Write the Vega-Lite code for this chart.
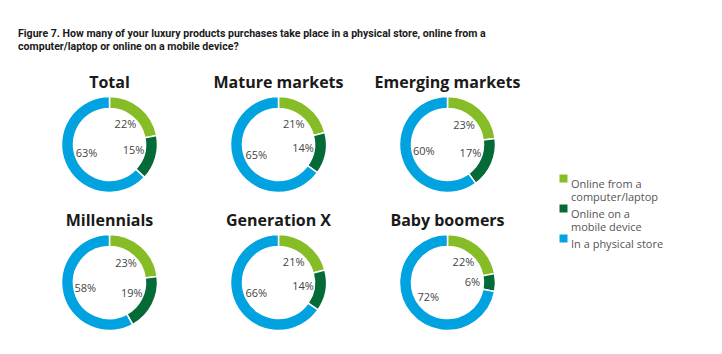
{
  "$schema": "https://vega.github.io/schema/vega-lite/v6.json",
  "padding": {"left": 18, "top": 28, "right": 5, "bottom": 5},
  "background": "white",
  "title": {
    "text": ["Figure 7. How many of your luxury products purchases take place in a physical store, online from a", "computer/laptop or online on a mobile device?"],
    "anchor": "start",
    "frame": "bounds",
    "font": "Roboto",
    "fontSize": 10.6,
    "fontWeight": "bold",
    "color": "#1a1a1a",
    "lineHeight": 13,
    "dx": -7,
    "offset": 22
  },
  "data": {
    "values": [
      {"group": "Total", "category": "Online from a computer/laptop", "order": 1, "value": 22},
      {"group": "Total", "category": "Online on a mobile device", "order": 2, "value": 15},
      {"group": "Total", "category": "In a physical store", "order": 3, "value": 63},
      {"group": "Mature markets", "category": "Online from a computer/laptop", "order": 1, "value": 21},
      {"group": "Mature markets", "category": "Online on a mobile device", "order": 2, "value": 14},
      {"group": "Mature markets", "category": "In a physical store", "order": 3, "value": 65},
      {"group": "Emerging markets", "category": "Online from a computer/laptop", "order": 1, "value": 23},
      {"group": "Emerging markets", "category": "Online on a mobile device", "order": 2, "value": 17},
      {"group": "Emerging markets", "category": "In a physical store", "order": 3, "value": 60},
      {"group": "Millennials", "category": "Online from a computer/laptop", "order": 1, "value": 23},
      {"group": "Millennials", "category": "Online on a mobile device", "order": 2, "value": 19},
      {"group": "Millennials", "category": "In a physical store", "order": 3, "value": 58},
      {"group": "Generation X", "category": "Online from a computer/laptop", "order": 1, "value": 21},
      {"group": "Generation X", "category": "Online on a mobile device", "order": 2, "value": 14},
      {"group": "Generation X", "category": "In a physical store", "order": 3, "value": 66},
      {"group": "Baby boomers", "category": "Online from a computer/laptop", "order": 1, "value": 22},
      {"group": "Baby boomers", "category": "Online on a mobile device", "order": 2, "value": 6},
      {"group": "Baby boomers", "category": "In a physical store", "order": 3, "value": 72}
    ]
  },
  "transform": [{"calculate": "datum.value + '%'", "as": "label"}],
  "facet": {
    "field": "group",
    "type": "nominal",
    "sort": ["Total", "Mature markets", "Emerging markets", "Millennials", "Generation X", "Baby boomers"],
    "header": {
      "title": null,
      "labelFont": "Open Sans",
      "labelFontSize": 16,
      "labelFontWeight": "bold",
      "labelColor": "#1a1a1a",
      "labelPadding": 3
    }
  },
  "columns": 3,
  "spacing": {"row": 16, "column": 0},
  "spec": {
    "width": 169,
    "height": 97,
    "encoding": {
      "theta": {"field": "value", "type": "quantitative", "stack": "normalize"},
      "order": {"field": "order", "type": "quantitative"}
    },
    "layer": [
      {
        "mark": {"type": "arc", "innerRadius": 36, "outerRadius": 48, "stroke": "white", "strokeWidth": 1.5},
        "encoding": {
          "color": {
            "field": "category",
            "type": "nominal",
            "scale": {
              "domain": ["Online from a computer/laptop", "Online on a mobile device", "In a physical store"],
              "range": ["#86bc25", "#046a38", "#00a3e0"]
            },
            "legend": {
              "title": null,
              "orient": "none",
              "legendX": 533,
              "legendY": 77,
              "symbolType": "square",
              "symbolSize": 64,
              "symbolStrokeWidth": 0,
              "labelFont": "Open Sans",
              "labelFontSize": 11,
              "labelColor": "#555555",
              "labelBaseline": "top",
              "labelOffset": 2,
              "rowPadding": 0,
              "labelExpr": "datum.label == 'Online from a computer/laptop' ? ['Online from a', 'computer/laptop'] : datum.label == 'Online on a mobile device' ? ['Online on a', 'mobile device'] : datum.label"
            }
          }
        }
      },
      {
        "mark": {"type": "text", "radius": 25, "font": "Open Sans", "fontSize": 11, "color": "#444444"},
        "encoding": {"text": {"field": "label"}}
      }
    ]
  },
  "config": {"view": {"stroke": null}}
}
